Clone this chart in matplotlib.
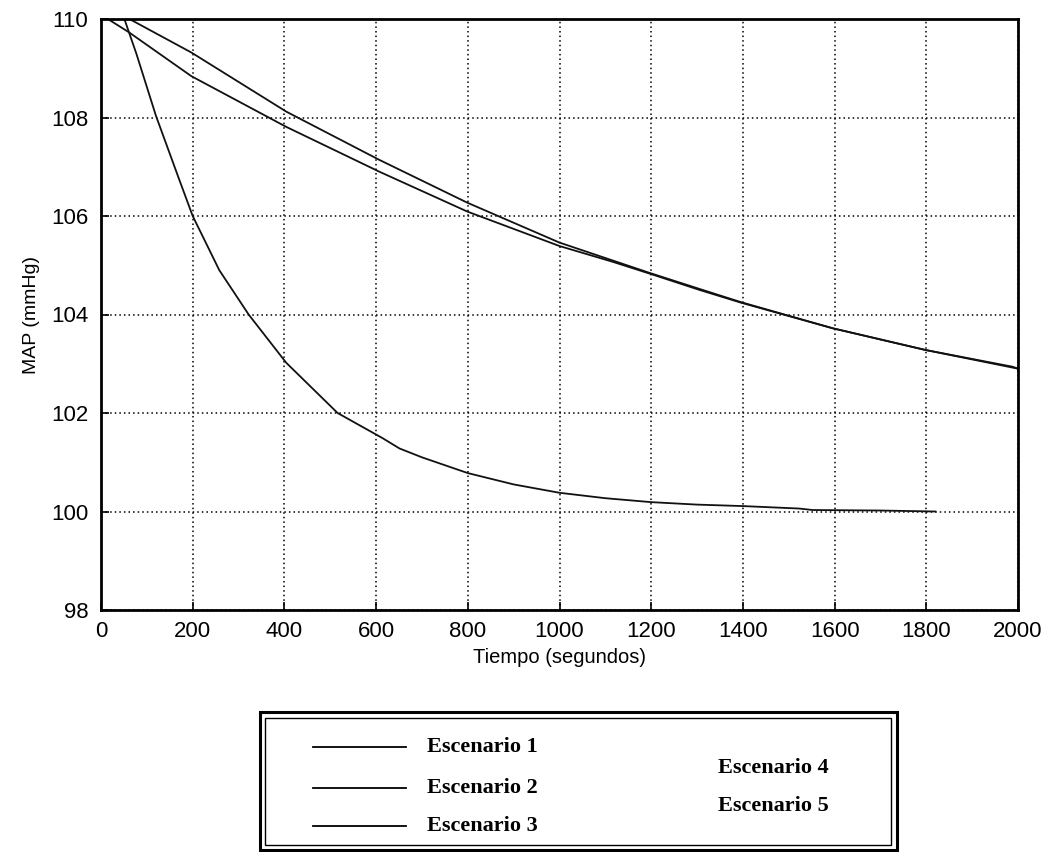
import matplotlib.pyplot as plt
from matplotlib.patches import Rectangle
from matplotlib.lines import Line2D

plt.rcParams['font.family'] = ['Liberation Sans', 'DejaVu Sans']

# tiempo (s) y MAP (mmHg)
t_rapida = [51, 61, 77, 120, 171, 200, 258, 322, 404, 516, 614, 651, 700, 800,
            900, 1000, 1100, 1200, 1300, 1400, 1523, 1552, 1700, 1820]
map_rapida = [110, 109.73, 109.3, 108.03, 106.73, 106.0, 104.9, 104.0, 103.02,
              102.0, 101.49, 101.28, 101.1, 100.78, 100.55, 100.38, 100.27,
              100.19, 100.14, 100.11, 100.06, 100.03, 100.02, 100.0]

t_media = [15, 61, 197, 404, 607, 799, 1000, 1116, 1200, 1305, 1396, 1596,
           1798, 1988, 2000]
map_media = [110, 109.73, 108.84, 107.81, 106.9, 106.09, 105.39, 105.07,
             104.82, 104.5, 104.24, 103.72, 103.28, 102.94, 102.9]

t_lenta = [62, 197, 404, 607, 799, 1000, 1198, 1305, 1396, 1596, 1798, 2000]
map_lenta = [110, 109.32, 108.12, 107.14, 106.27, 105.46, 104.84, 104.52,
             104.25, 103.72, 103.28, 102.9]

xticks = list(range(0, 2001, 200))
yticks = list(range(98, 111, 2))
leyenda_izq = ['Escenario 1', 'Escenario 2', 'Escenario 3']
leyenda_der = ['Escenario 4', 'Escenario 5']

W, H = 1047, 852
fig = plt.figure(figsize=(W / 100, H / 100), dpi=100)
ax = fig.add_axes([101 / W, 1 - 610 / H, 917 / W, 591 / H])

for t, m in [(t_rapida, map_rapida), (t_media, map_media), (t_lenta, map_lenta)]:
    ax.plot(t, m, color='#111111', lw=1.3)

ax.set_xlim(0, 2000)
ax.set_ylim(98, 110)
ax.set_xticks(xticks)
ax.set_yticks(yticks)
ax.tick_params(direction='in', length=6, width=1.2, labelsize=16)
ax.tick_params(axis='y', pad=9)
ax.tick_params(axis='x', pad=8)
ax.grid(True, color='black', linestyle=(0, (1, 2)), lw=1.1)
for s in ax.spines.values():
    s.set_linewidth(2)
ax.set_xlabel('Tiempo (segundos)', fontsize=14.5, labelpad=4)
ax.set_ylabel('MAP (mmHg)', fontsize=14, labelpad=8)

# recuadro de la leyenda con doble borde (coordenadas en pixeles de la figura)
def px(x, y):
    return x / W, 1 - y / H

x0, y0 = px(260, 850)
fig.add_artist(Rectangle((x0, y0), (897 - 260) / W, (850 - 712) / H,
                         transform=fig.transFigure, fill=False, lw=2.2, ec='black'))
x1, y1 = px(265, 845)
fig.add_artist(Rectangle((x1, y1), (891 - 265) / W, (845 - 718) / H,
                         transform=fig.transFigure, fill=False, lw=1.0, ec='black'))

filas = [747, 788, 826]
for lab, yy in zip(leyenda_izq, filas):
    xa, ya = px(313, yy)
    xb, _ = px(406, yy)
    fig.add_artist(Line2D([xa, xb], [ya, ya], transform=fig.transFigure,
                          color='black', lw=1.3))
    xt, yt = px(427, yy)
    fig.text(xt, yt, lab, family=['Liberation Serif', 'DejaVu Serif'],
             weight='bold', fontsize=16, va='center', ha='left')

for lab, yy in zip(leyenda_der, [768, 806]):
    xt, yt = px(718, yy)
    fig.text(xt, yt, lab, family=['Liberation Serif', 'DejaVu Serif'],
             weight='bold', fontsize=16, va='center', ha='left')

fig.savefig('out.png', dpi=100)
